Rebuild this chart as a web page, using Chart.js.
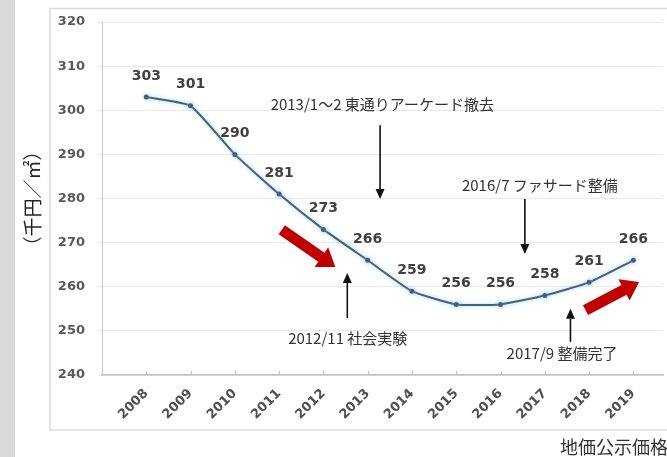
<!DOCTYPE html>
<html><head><meta charset="utf-8">
<script src="https://cdn.jsdelivr.net/npm/chart.js@4"></script>
<style>html,body{margin:0;padding:0;background:#fff;}canvas{display:block}</style>
</head><body>
<canvas id="c" width="667" height="457"></canvas>
<script>
// ---- data ----
const years = [2008, 2009, 2010, 2011, 2012, 2013, 2014, 2015, 2016, 2017, 2018, 2019];
const prices = [303, 301, 290, 281, 273, 266, 259, 256, 256, 258, 261, 266];
const yTickValues = [240, 250, 260, 270, 280, 290, 300, 310, 320];
const yTitle = '（千円／㎡）';
const sourceText = '地価公示価格';

// annotations in data coordinates (year, value)
const noteTexts = ['2013/1～2 東通りアーケード撤去', '2016/7 ファサード整備', '2012/11 社会実験', '2017/9 整備完了'];
const noteX = [2013.33, 2016.89, 2012.55, 2017.39];
const noteY = [301.4, 283.1, 248.4, 245.0];
const blackArrowX = [2013.28, 2016.55, 2012.54, 2017.58];
const blackArrowFrom = [296.6, 279.9, 252.9, 247.5];
const blackArrowTo = [279.9, 267.4, 263.1, 255.0];
const redArrowFromX = [2011.06, 2017.92];
const redArrowFromY = [272.9, 254.7];
const redArrowToX = [2012.27, 2019.13];
const redArrowToY = [264.5, 261.1];

const LINE = '#42627a';

function drawRedArrow(ctx, x1, y1, x2, y2) {
  const dx = x2 - x1, dy = y2 - y1, L = Math.hypot(dx, dy);
  const ux = dx / L, uy = dy / L, nx = -uy, ny = ux;
  const sw = 5.5, hw = 12, hl = 17;
  const bx = x2 - ux * hl, by = y2 - uy * hl;
  ctx.beginPath();
  ctx.moveTo(x1 + nx * sw, y1 + ny * sw);
  ctx.lineTo(bx + nx * sw, by + ny * sw);
  ctx.lineTo(bx + nx * hw, by + ny * hw);
  ctx.lineTo(x2, y2);
  ctx.lineTo(bx - nx * hw, by - ny * hw);
  ctx.lineTo(bx - nx * sw, by - ny * sw);
  ctx.lineTo(x1 - nx * sw, y1 - ny * sw);
  ctx.closePath();
  ctx.fillStyle = '#c00000';
  ctx.fill();
}

function drawBlackArrow(ctx, x, y1, y2) {
  const dir = y2 > y1 ? 1 : -1;
  const hl = 10, hw = 4.5;
  ctx.strokeStyle = '#111';
  ctx.lineWidth = 1.6;
  ctx.beginPath();
  ctx.moveTo(x, y1);
  ctx.lineTo(x, y2 - dir * hl);
  ctx.stroke();
  ctx.beginPath();
  ctx.moveTo(x, y2);
  ctx.lineTo(x - hw, y2 - dir * hl);
  ctx.lineTo(x + hw, y2 - dir * hl);
  ctx.closePath();
  ctx.fillStyle = '#111';
  ctx.fill();
}

const deco = {
  id: 'deco',
  beforeDraw(chart) {
    const ctx = chart.ctx;
    ctx.save();
    ctx.fillStyle = '#fff';
    ctx.fillRect(0, 0, chart.width, chart.height);
    ctx.fillStyle = '#d9d9d9';
    ctx.fillRect(0, 0, 15, chart.height);
    ctx.strokeStyle = '#dcdcdc';
    ctx.lineWidth = 1.5;
    ctx.strokeRect(50, 8.5, 700, 421.5);
    ctx.restore();
  },
  beforeDatasetDraw(chart) {
    const ctx = chart.ctx;
    ctx.save();
    ctx.shadowColor = 'rgba(150,200,235,0.9)';
    ctx.shadowBlur = 4;
  },
  afterDatasetDraw(chart) {
    chart.ctx.restore();
  },
  afterDraw(chart) {
    const ctx = chart.ctx;
    const xs = chart.scales.x, ys = chart.scales.y;
    ctx.save();
    // upward tick marks on x axis
    ctx.strokeStyle = '#bfbfbf';
    ctx.lineWidth = 1;
    const yb = ys.getPixelForValue(240);
    years.forEach(v => {
      const px = Math.round(xs.getPixelForValue(v)) + 0.5;
      ctx.beginPath(); ctx.moveTo(px, yb); ctx.lineTo(px, yb - 4); ctx.stroke();
    });
    // data labels
    const meta = chart.getDatasetMeta(0);
    ctx.fillStyle = '#404040';
    ctx.font = 'bold 14px "DejaVu Sans"';
    ctx.textAlign = 'center';
    ctx.textBaseline = 'middle';
    meta.data.forEach((p, i) => ctx.fillText(String(prices[i]), p.x, p.y - 21));
    // notes
    ctx.fillStyle = '#333';
    ctx.font = '15px "Noto Sans CJK JP"';
    noteTexts.forEach((t, i) => ctx.fillText(t, xs.getPixelForValue(noteX[i]), ys.getPixelForValue(noteY[i])));
    // black arrows
    blackArrowX.forEach((v, i) => drawBlackArrow(ctx, xs.getPixelForValue(v), ys.getPixelForValue(blackArrowFrom[i]), ys.getPixelForValue(blackArrowTo[i])));
    // red arrows
    redArrowFromX.forEach((v, i) => drawRedArrow(ctx,
      xs.getPixelForValue(v), ys.getPixelForValue(redArrowFromY[i]),
      xs.getPixelForValue(redArrowToX[i]), ys.getPixelForValue(redArrowToY[i])));
    // source
    ctx.fillStyle = '#333';
    ctx.font = '18px "Noto Sans CJK JP"';
    ctx.textAlign = 'left';
    ctx.fillText(sourceText, 560, 447);
    ctx.restore();
  }
};

new Chart(document.getElementById('c'), {
  type: 'line',
  data: {
    datasets: [{
      data: years.map((y, i) => ({ x: y, y: prices[i] })),
      borderColor: LINE,
      borderWidth: 2,
      pointRadius: 2.5,
      pointBackgroundColor: LINE,
      pointBorderWidth: 0,
      tension: 0.15,
      clip: false
    }]
  },
  options: {
    responsive: false,
    animation: false,
    devicePixelRatio: 1,
    layout: { padding: { top: 22, left: 0, right: 0, bottom: 0 } },
    plugins: { legend: { display: false }, tooltip: { enabled: false } },
    scales: {
      x: {
        type: 'linear', min: 2007, max: 2019.67,
        afterBuildTicks: s => { s.ticks = years.map(v => ({ value: v })); },
        afterFit: s => { s.height = 82; },
        grid: { display: false, drawTicks: false },
        border: { display: true, color: '#bfbfbf', width: 1.5 },
        ticks: {
          autoSkip: false, minRotation: 45, maxRotation: 45, padding: 11,
          color: '#505050', font: { family: 'DejaVu Sans', weight: 'bold', size: 13 },
          callback: v => String(v)
        }
      },
      y: {
        min: 240, max: 320,
        afterBuildTicks: s => { s.ticks = yTickValues.map(v => ({ value: v })); },
        afterFit: s => { s.width = 102; },
        grid: { color: '#e8e8e8', tickLength: 4, drawTicks: true },
        border: { color: '#c8c8c8' },
        ticks: {
          padding: 13, color: '#595959',
          font: { family: 'DejaVu Sans', weight: 'bold', size: 13 },
          callback: v => String(v)
        },
        title: {
          display: true, text: yTitle, color: '#222',
          font: { family: 'Noto Sans CJK JP', size: 19 },
          padding: { top: 21, bottom: 0 }
        }
      }
    }
  },
  plugins: [deco]
});
</script>
</body></html>
